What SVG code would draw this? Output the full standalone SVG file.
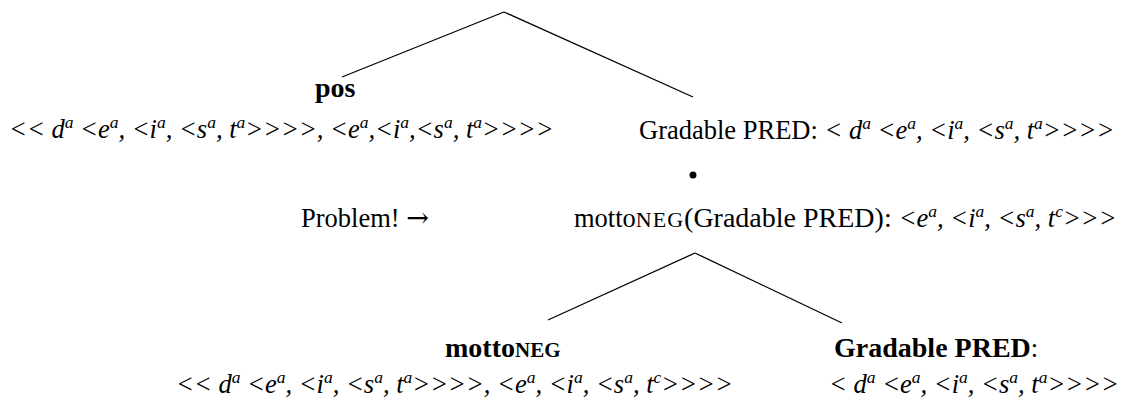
<svg xmlns="http://www.w3.org/2000/svg" width="1141" height="405" viewBox="0 0 1141 405">
<style>
.t{font-family:"Liberation Serif","Times New Roman",serif;font-size:26.5px;fill:#000}
.b{font-weight:bold;font-size:28px}
.i{font-style:italic}
.sup{font-size:17.5px}
.sc{font-size:22px;letter-spacing:1px}
.scb{font-size:21px}
.r28{font-size:28px}
.ar{font-family:"DejaVu Serif",serif;font-size:27px}
.ln{stroke:#000;stroke-width:1.3;fill:none}
</style>
<rect width="1141" height="405" fill="#fff"/>
<g id="connectors">
<line class="ln" x1="504" y1="12" x2="342" y2="77"/>
<line class="ln" x1="504" y1="12" x2="693" y2="97"/>
<line class="ln" x1="695" y1="253" x2="548" y2="320"/>
<line class="ln" x1="695" y1="253" x2="842" y2="323"/>
</g>
<g id="pos">
<text class="t b" x="315" y="97">pos</text>
<text class="t i" x="9" y="138">&lt;&lt; d<tspan class="sup" dy="-10">a</tspan><tspan dy="10"> &lt;e</tspan><tspan class="sup" dy="-10">a</tspan><tspan dy="10">, &lt;i</tspan><tspan class="sup" dy="-10">a</tspan><tspan dy="10">, &lt;s</tspan><tspan class="sup" dy="-10">a</tspan><tspan dy="10">, t</tspan><tspan class="sup" dy="-10">a</tspan><tspan dy="10">&gt;&gt;&gt;&gt;, &lt;e</tspan><tspan class="sup" dy="-10">a</tspan><tspan dy="10">,&lt;i</tspan><tspan class="sup" dy="-10">a</tspan><tspan dy="10">,&lt;s</tspan><tspan class="sup" dy="-10">a</tspan><tspan dy="10">, t</tspan><tspan class="sup" dy="-10">a</tspan><tspan dy="10">&gt;&gt;&gt;&gt;</tspan></text>
</g>
<g id="gradable-pred-top">
<text class="t" x="639" y="139">Gradable PRED: <tspan class="i">&lt; d</tspan><tspan class="i sup" dy="-10">a</tspan><tspan class="i" dy="10"> &lt;e</tspan><tspan class="i sup" dy="-10">a</tspan><tspan class="i" dy="10">, &lt;i</tspan><tspan class="i sup" dy="-10">a</tspan><tspan class="i" dy="10">, &lt;s</tspan><tspan class="i sup" dy="-10">a</tspan><tspan class="i" dy="10">, t</tspan><tspan class="i sup" dy="-10">a</tspan><tspan class="i" dy="10">&gt;&gt;&gt;&gt;</tspan></text>
<circle cx="693" cy="175" r="3.5" fill="#000"/>
</g>
<g id="problem">
<text class="t" x="301" y="227">Problem! <tspan class="ar">→</tspan></text>
</g>
<g id="motto-applied">
<text class="t" x="574" y="227">motto<tspan class="sc">NEG</tspan><tspan class="r28">(Gradable PRED): </tspan><tspan class="i">&lt;e</tspan><tspan class="i sup" dy="-10">a</tspan><tspan class="i" dy="10">, &lt;i</tspan><tspan class="i sup" dy="-10">a</tspan><tspan class="i" dy="10">, &lt;s</tspan><tspan class="i sup" dy="-10">a</tspan><tspan class="i" dy="10">, t</tspan><tspan class="i sup" dy="-10">c</tspan><tspan class="i" dy="10">&gt;&gt;&gt;</tspan></text>
</g>
<g id="motto-neg">
<text class="t b" x="445" y="357">motto<tspan class="scb">NEG</tspan></text>
<text class="t i" x="176" y="393">&lt;&lt; d<tspan class="sup" dy="-10">a</tspan><tspan dy="10"> &lt;e</tspan><tspan class="sup" dy="-10">a</tspan><tspan dy="10">, &lt;i</tspan><tspan class="sup" dy="-10">a</tspan><tspan dy="10">, &lt;s</tspan><tspan class="sup" dy="-10">a</tspan><tspan dy="10">, t</tspan><tspan class="sup" dy="-10">a</tspan><tspan dy="10">&gt;&gt;&gt;&gt;, &lt;e</tspan><tspan class="sup" dy="-10">a</tspan><tspan dy="10">, &lt;i</tspan><tspan class="sup" dy="-10">a</tspan><tspan dy="10">, &lt;s</tspan><tspan class="sup" dy="-10">a</tspan><tspan dy="10">, t</tspan><tspan class="sup" dy="-10">c</tspan><tspan dy="10">&gt;&gt;&gt;&gt;</tspan></text>
</g>
<g id="gradable-pred-bottom">
<text class="t" x="834" y="357"><tspan class="b">Gradable PRED</tspan>:</text>
<text class="t i" x="829" y="393">&lt; d<tspan class="sup" dy="-10">a</tspan><tspan dy="10"> &lt;e</tspan><tspan class="sup" dy="-10">a</tspan><tspan dy="10">, &lt;i</tspan><tspan class="sup" dy="-10">a</tspan><tspan dy="10">, &lt;s</tspan><tspan class="sup" dy="-10">a</tspan><tspan dy="10">, t</tspan><tspan class="sup" dy="-10">a</tspan><tspan dy="10">&gt;&gt;&gt;&gt;</tspan></text>
</g>
</svg>
